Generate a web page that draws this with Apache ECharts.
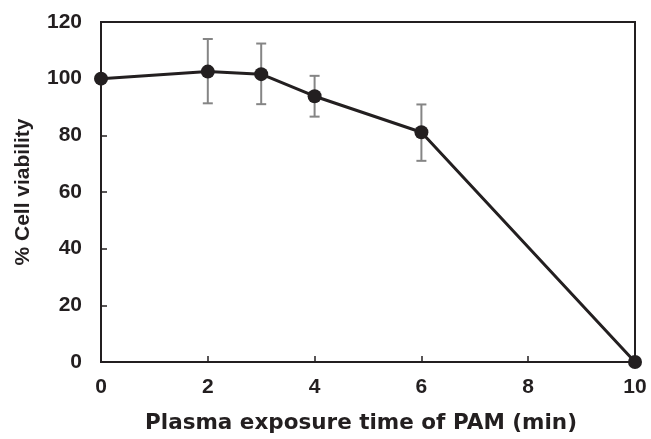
<!DOCTYPE html>
<html>
<head>
<meta charset="utf-8">
<script src="https://cdn.jsdelivr.net/npm/echarts@6/dist/echarts.min.js"></script>
<style>html,body{margin:0;padding:0;background:#fff}#c{width:651px;height:439px}</style>
</head>
<body>
<div id="c"></div>
<script>
var times = [0, 2, 3, 4, 6, 10];
var viability = [100, 102.5, 101.6, 93.8, 81.1, 0];
var errLow = [100, 91.3, 91.0, 86.6, 71.0, 0];
var errHigh = [100, 114.0, 112.4, 101.0, 90.9, 0];
var xTicks = [0, 2, 4, 6, 8, 10];
var yTicks = [0, 20, 40, 60, 80, 100, 120];

var chart = echarts.init(document.getElementById('c'));
var font = '"Liberation Sans", Arial, Helvetica, sans-serif';
var wideFont = '"DejaVu Sans", "Liberation Sans", sans-serif';
var errData = [];
for (var i = 0; i < times.length; i++) {
  if (errHigh[i] !== errLow[i]) errData.push([times[i], errLow[i], errHigh[i]]);
}
chart.setOption({
  animation: false,
  grid: {left: 101, top: 22, right: 16, bottom: 75, show: true, borderColor: '#231f20', borderWidth: 2},
  xAxis: {
    type: 'value', min: 0, max: 10, interval: 2,
    axisLine: {show: true, lineStyle: {color: '#231f20', width: 2}},
    axisTick: {show: true, inside: true, length: 6, lineStyle: {color: '#231f20', width: 1.5}},
    splitLine: {show: false},
    axisLabel: {color: '#231f20', fontFamily: font, fontWeight: 'bold', fontSize: 21, margin: 15},
    name: 'Plasma exposure time of PAM (min)', nameLocation: 'middle', nameGap: 50,
    nameTextStyle: {color: '#231f20', fontFamily: wideFont, fontWeight: 'bold', fontSize: 21.5, padding: [0, 14, 0, 0]}
  },
  yAxis: {
    type: 'value', min: 0, max: 120, interval: 20,
    axisLine: {show: true, lineStyle: {color: '#231f20', width: 2}},
    axisTick: {show: true, inside: true, length: 6, lineStyle: {color: '#231f20', width: 1.5}},
    splitLine: {show: false},
    axisLabel: {color: '#231f20', fontFamily: font, fontWeight: 'bold', fontSize: 21, margin: 19},
    name: '% Cell viability', nameLocation: 'middle', nameGap: 67,
    nameTextStyle: {color: '#231f20', fontFamily: font, fontWeight: 'bold', fontSize: 21}
  },
  series: [
    {
      type: 'custom',
      data: errData,
      z: 1,
      renderItem: function (params, api) {
        var x = api.value(0);
        var lo = api.coord([x, api.value(1)]);
        var hi = api.coord([x, api.value(2)]);
        var w = 5;
        var st = {stroke: '#858585', lineWidth: 2};
        return {type: 'group', children: [
          {type: 'line', shape: {x1: lo[0], y1: lo[1], x2: hi[0], y2: hi[1]}, style: st},
          {type: 'line', shape: {x1: lo[0] - w, y1: lo[1], x2: lo[0] + w, y2: lo[1]}, style: st},
          {type: 'line', shape: {x1: hi[0] - w, y1: hi[1], x2: hi[0] + w, y2: hi[1]}, style: st}
        ]};
      }
    },
    {
      type: 'line',
      z: 3,
      data: times.map(function (t, i) { return [t, viability[i]]; }),
      symbol: 'circle', symbolSize: 14,
      lineStyle: {color: '#231f20', width: 3},
      itemStyle: {color: '#231f20'},
      clip: false
    }
  ]
});
</script>
</body>
</html>
